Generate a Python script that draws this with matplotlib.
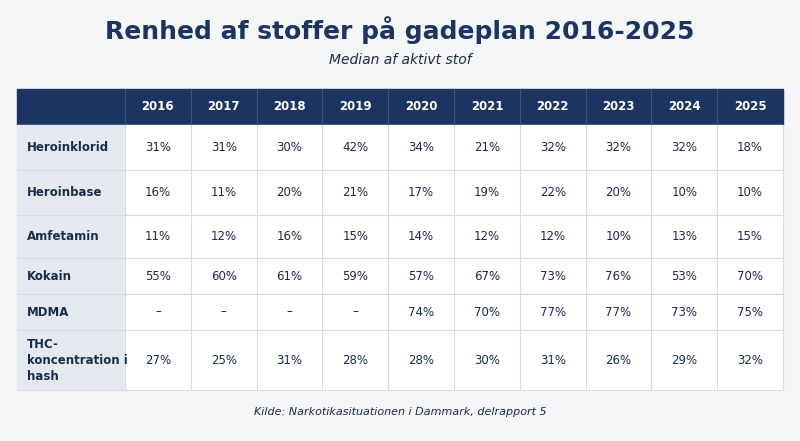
import matplotlib.pyplot as plt
from matplotlib.patches import Rectangle

years = ["2016", "2017", "2018", "2019", "2020", "2021", "2022", "2023", "2024", "2025"]
drugs = ["Heroinklorid", "Heroinbase", "Amfetamin", "Kokain", "MDMA", "THC-\nkoncentration i\nhash"]
heroinklorid = ["31%", "31%", "30%", "42%", "34%", "21%", "32%", "32%", "32%", "18%"]
heroinbase = ["16%", "11%", "20%", "21%", "17%", "19%", "22%", "20%", "10%", "10%"]
amfetamin = ["11%", "12%", "16%", "15%", "14%", "12%", "12%", "10%", "13%", "15%"]
kokain = ["55%", "60%", "61%", "59%", "57%", "67%", "73%", "76%", "53%", "70%"]
mdma = ["–", "–", "–", "–", "74%", "70%", "77%", "77%", "73%", "75%"]
thc = ["27%", "25%", "31%", "28%", "28%", "30%", "31%", "26%", "29%", "32%"]
rows = [heroinklorid, heroinbase, amfetamin, kokain, mdma, thc]

NAVY = "#1b3461"
BG = "#f5f6f8"
FIRST = "#e4e9f0"
LINE = "#d5dbe4"
TEXT = "#1b2b4b"

fig = plt.figure(figsize=(8, 4.41), dpi=100, facecolor=BG)
ax = fig.add_axes([0, 0, 1, 1])
ax.set_xlim(0, 800)
ax.set_ylim(441, 0)
ax.axis("off")

ax.text(400, 30, "Renhed af stoffer på gadeplan 2016-2025", ha="center", va="center",
        fontsize=18, fontweight="bold", color=NAVY)
ax.text(400, 60, "Median af aktivt stof", ha="center", va="center",
        fontsize=10, style="italic", color=TEXT)

x0, xfirst, x1 = 17, 125, 783
cw = (x1 - xfirst) / len(years)
row_edges = [89, 125, 170, 215, 258, 294, 330, 390]

ax.add_patch(Rectangle((x0, row_edges[0]), x1 - x0, row_edges[1] - row_edges[0], color=NAVY))
for i, y in enumerate(years):
    cx = xfirst + cw * (i + 0.5)
    ax.text(cx, (row_edges[0] + row_edges[1]) / 2, y, ha="center", va="center",
            fontsize=8.5, fontweight="bold", color="white")
for i in range(len(years)):
    ax.plot([xfirst + cw * i] * 2, row_edges[:2], color="#3a5480", lw=0.8)

for r, (name, vals) in enumerate(zip(drugs, rows)):
    top, bot = row_edges[r + 1], row_edges[r + 2]
    cy = (top + bot) / 2
    ax.add_patch(Rectangle((x0, top), xfirst - x0, bot - top, color=FIRST))
    ax.add_patch(Rectangle((xfirst, top), x1 - xfirst, bot - top, color="white"))
    ax.text(x0 + 10, cy, name, ha="left", va="center", fontsize=8.5,
            fontweight="bold", color=TEXT, linespacing=1.3)
    for i, v in enumerate(vals):
        ax.text(xfirst + cw * (i + 0.5), cy, v, ha="center", va="center",
                fontsize=8.5, color=TEXT)
    ax.plot([x0, x1], [bot, bot], color=LINE, lw=0.8)
for i in range(len(years) + 1):
    ax.plot([xfirst + cw * i] * 2, [row_edges[1], row_edges[-1]], color=LINE, lw=0.8)

ax.text(400, 412, "Kilde: Narkotikasituationen i Dammark, delrapport 5", ha="center",
        va="center", fontsize=8, style="italic", color=TEXT)

fig.savefig("out.png", dpi=100, facecolor=BG)
